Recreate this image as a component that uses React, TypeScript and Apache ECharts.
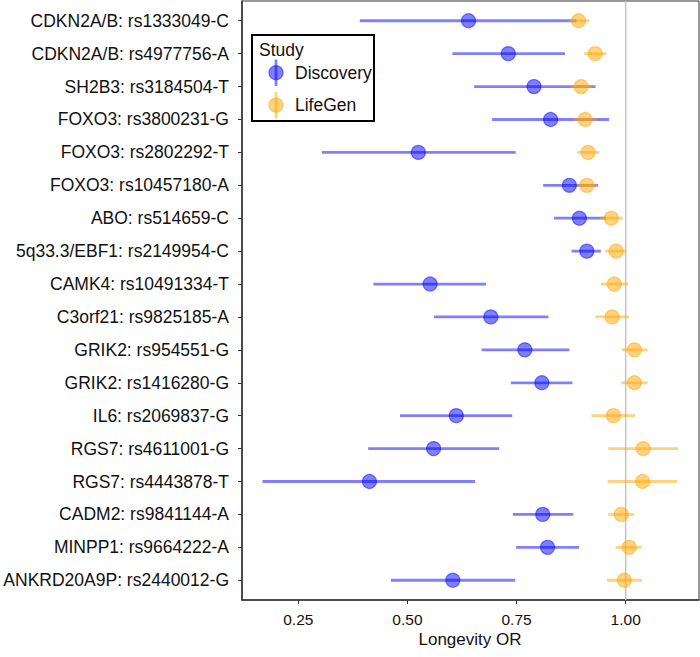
import React, { useEffect, useRef } from "react";
import * as echarts from "echarts";

const snpLabels = [
  "CDKN2A/B: rs1333049-C",
  "CDKN2A/B: rs4977756-A",
  "SH2B3: rs3184504-T",
  "FOXO3: rs3800231-G",
  "FOXO3: rs2802292-T",
  "FOXO3: rs10457180-A",
  "ABO: rs514659-C",
  "5q33.3/EBF1: rs2149954-C",
  "CAMK4: rs10491334-T",
  "C3orf21: rs9825185-A",
  "GRIK2: rs954551-G",
  "GRIK2: rs1416280-G",
  "IL6: rs2069837-G",
  "RGS7: rs4611001-G",
  "RGS7: rs4443878-T",
  "CADM2: rs9841144-A",
  "MINPP1: rs9664222-A",
  "ANKRD20A9P: rs2440012-G",
];

const discoveryOR = [0.640, 0.731, 0.790, 0.828, 0.525, 0.871, 0.894, 0.911, 0.552, 0.691, 0.769, 0.808, 0.612, 0.560, 0.413, 0.810, 0.821, 0.604];
const discoveryLo = [0.391, 0.603, 0.653, 0.694, 0.304, 0.811, 0.836, 0.876, 0.422, 0.561, 0.670, 0.737, 0.483, 0.410, 0.168, 0.742, 0.749, 0.462];
const discoveryHi = [0.887, 0.861, 0.931, 0.962, 0.748, 0.937, 0.955, 0.943, 0.680, 0.823, 0.871, 0.878, 0.740, 0.710, 0.655, 0.880, 0.893, 0.747];

const lifegenOR = [0.892, 0.930, 0.898, 0.907, 0.914, 0.911, 0.967, 0.978, 0.974, 0.969, 1.020, 1.020, 0.972, 1.040, 1.039, 0.990, 1.008, 0.997];
const lifegenLo = [0.870, 0.905, 0.873, 0.880, 0.889, 0.888, 0.940, 0.953, 0.943, 0.931, 0.991, 0.990, 0.922, 0.960, 0.959, 0.960, 0.977, 0.957];
const lifegenHi = [0.917, 0.955, 0.924, 0.934, 0.940, 0.937, 0.993, 1.002, 1.006, 1.008, 1.050, 1.050, 1.022, 1.120, 1.118, 1.020, 1.037, 1.037];

const xTicks = [0.25, 0.5, 0.75, 1.0];
const studies = ["Discovery", "LifeGen"];
const xTitle = "Longevity OR";
const legendTitle = "Study";

const FONT = "'Liberation Sans', Arial, Helvetica, sans-serif";
const BLUE = "rgba(0,0,255,0.5)";
const ORANGE = "rgba(255,165,0,0.5)";

function makeSeries(name: string, lo: number[], hi: number[], est: number[], color: string) {
  const data = est.map((v, i) => [lo[i], hi[i], v, i]);
  return {
    type: "custom",
    name,
    z: 3,
    encode: { x: [0, 1, 2], y: 3 },
    data,
    renderItem: (params: any, api: any) => {
      const y = api.value(3);
      const p0 = api.coord([api.value(0), y]);
      const p1 = api.coord([api.value(1), y]);
      const pc = api.coord([api.value(2), y]);
      return {
        type: "group",
        children: [
          {
            type: "line",
            shape: { x1: p0[0], y1: p0[1], x2: p1[0], y2: p1[1] },
            style: { stroke: color, lineWidth: 2.8 },
          },
          {
            type: "circle",
            shape: { cx: pc[0], cy: pc[1], r: 7 },
            style: { fill: color, stroke: color, lineWidth: 1.2 },
          },
        ],
      };
    },
  };
}

export default function App() {
  const ref = useRef<HTMLDivElement>(null);
  useEffect(() => {
    if (!ref.current) return;
    const chart = echarts.init(ref.current, null, { renderer: "svg" });
    const rowIdx = snpLabels.map((_, i) => i);
    const option: any = {
      animation: false,
      backgroundColor: "#ffffff",
      textStyle: { fontFamily: FONT },
      grid: {
        left: 242,
        right: 1,
        top: 1,
        bottom: 57,
        show: true,
        borderColor: "#333333",
        borderWidth: 1,
        backgroundColor: "transparent",
      },
      xAxis: {
        type: "value",
        min: 0.121,
        max: 1.168,
        axisLine: { show: true, onZero: false, lineStyle: { color: "#333", width: 1.5 } },
        axisTick: { show: true, length: 4, customValues: xTicks, lineStyle: { color: "#333", width: 1 } },
        axisLabel: {
          customValues: xTicks,
          formatter: (v: number) => v.toFixed(2),
          fontSize: 15.5,
          color: "#111",
          margin: 11,
          fontFamily: FONT,
        },
        splitLine: { show: false },
      },
      yAxis: {
        type: "value",
        min: -0.6,
        max: 17.6,
        inverse: true,
        axisLine: { show: true, onZero: false, lineStyle: { color: "#333", width: 1.5 } },
        axisTick: { show: true, length: 4, customValues: rowIdx, lineStyle: { color: "#333", width: 1 } },
        axisLabel: {
          customValues: rowIdx,
          formatter: (v: number) => snpLabels[Math.round(v)] ?? "",
          fontSize: 17.5,
          color: "#111",
          margin: 13,
          fontFamily: FONT,
        },
        splitLine: { show: false },
      },
      series: [
        {
          type: "line",
          z: 1,
          silent: true,
          symbol: "none",
          data: [[1, -0.6], [1, 17.6]],
          lineStyle: { color: "#c4c4c4", width: 1.5 },
        },
        makeSeries(studies[0], discoveryLo, discoveryHi, discoveryOR, BLUE),
        makeSeries(studies[1], lifegenLo, lifegenHi, lifegenOR, ORANGE),
      ],
      graphic: [
        {
          type: "text",
          z: 101,
          x: 470,
          y: 639,
          style: { text: xTitle, fontSize: 17, fontFamily: FONT, fill: "#111", align: "center", verticalAlign: "middle" },
        },
        {
          type: "rect",
          z: 100,
          shape: { x: 252, y: 35, width: 122, height: 86 },
          style: { fill: "#ffffff", stroke: "#000000", lineWidth: 2 },
        },
        {
          type: "text",
          z: 101,
          x: 259,
          y: 50,
          style: { text: legendTitle, fontSize: 17.5, fontFamily: FONT, fill: "#111", verticalAlign: "middle" },
        },
        {
          type: "line",
          z: 101,
          shape: { x1: 276, y1: 59.5, x2: 276, y2: 86 },
          style: { stroke: BLUE, lineWidth: 2.8 },
        },
        {
          type: "circle",
          z: 102,
          shape: { cx: 276, cy: 72.7, r: 7 },
          style: { fill: BLUE, stroke: BLUE, lineWidth: 1.2 },
        },
        {
          type: "text",
          z: 101,
          x: 295,
          y: 72.7,
          style: { text: studies[0], fontSize: 17.5, fontFamily: FONT, fill: "#111", verticalAlign: "middle" },
        },
        {
          type: "line",
          z: 101,
          shape: { x1: 276, y1: 92, x2: 276, y2: 118.5 },
          style: { stroke: ORANGE, lineWidth: 2.8 },
        },
        {
          type: "circle",
          z: 102,
          shape: { cx: 276, cy: 105.2, r: 7 },
          style: { fill: ORANGE, stroke: ORANGE, lineWidth: 1.2 },
        },
        {
          type: "text",
          z: 101,
          x: 295,
          y: 105.2,
          style: { text: studies[1], fontSize: 17.5, fontFamily: FONT, fill: "#111", verticalAlign: "middle" },
        },
      ],
    };
    chart.setOption(option);
    return () => chart.dispose();
  }, []);
  return (
    <div
      ref={ref}
      style={{ position: "absolute", left: 0, top: 0, width: 700, height: 657, background: "#fff" }}
    />
  );
}
